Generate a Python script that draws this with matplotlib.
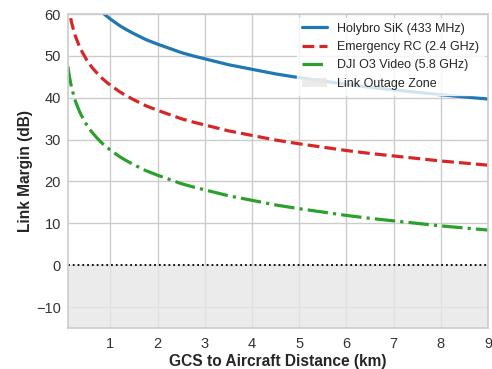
import matplotlib
matplotlib.use("Agg")
import matplotlib.pyplot as plt
import seaborn as sns

# distance from GCS (km) and link margin (dB) per radio link
distance_km = [0.1, 0.11, 0.125, 0.14, 0.16, 0.18, 0.2, 0.25, 0.3, 0.35, 0.4, 0.5, 0.6,
               0.7, 0.8, 0.9, 1.0, 1.1, 1.2, 1.35, 1.5, 1.75, 2.0, 2.25, 2.5, 2.75, 3.0,
               3.5, 4.0, 4.5, 5.0, 5.5, 6.0, 6.5, 7.0, 7.5, 8.0, 8.5, 9.0]
sik_433 = [78.8, 78.0, 76.9, 75.9, 74.7, 73.7, 72.8, 70.8, 69.3, 67.9, 66.8, 64.8, 63.2,
           61.9, 60.7, 59.7, 58.8, 58.0, 57.2, 56.2, 55.3, 53.9, 52.8, 51.8, 50.8, 50.0, 49.3,
           47.9, 46.8, 45.7, 44.8, 44.0, 43.2, 42.5, 41.9, 41.3, 40.7, 40.2, 39.7]
rc_24 = [63.0, 62.2, 61.1, 60.1, 58.9, 57.9, 57.0, 55.0, 53.5, 52.1, 51.0, 49.0, 47.4,
         46.1, 44.9, 43.9, 43.0, 42.2, 41.4, 40.4, 39.5, 38.1, 37.0, 36.0, 35.0, 34.2, 33.5,
         32.1, 31.0, 29.9, 29.0, 28.2, 27.4, 26.7, 26.1, 25.5, 24.9, 24.4, 23.9]
o3_58 = [47.5, 46.7, 45.6, 44.6, 43.4, 42.4, 41.5, 39.5, 38.0, 36.6, 35.5, 33.5, 31.9,
         30.6, 29.4, 28.4, 27.5, 26.7, 25.9, 24.9, 24.0, 22.6, 21.5, 20.5, 19.5, 18.7, 18.0,
         16.6, 15.5, 14.4, 13.5, 12.7, 11.9, 11.2, 10.6, 10.0, 9.4, 8.9, 8.4]

sns.set_theme(style="whitegrid")
plt.rcParams["font.family"] = ["Liberation Sans", "DejaVu Sans"]

fig = plt.figure(figsize=(4.92, 3.69), dpi=100)
ax = fig.add_axes([0.138, 0.111, 0.854, 0.851])

ax.plot(distance_km, sik_433, color="#1f77b4", lw=2.3, ls="-", label="Holybro SiK (433 MHz)")
ax.plot(distance_km, rc_24, color="#d62728", lw=2.3, ls="--", label="Emergency RC (2.4 GHz)")
ax.plot(distance_km, o3_58, color="#2ca02c", lw=2.3, ls="-.", label="DJI O3 Video (5.8 GHz)")
ax.axhspan(-15, 0, color="#e6e6e6", alpha=0.8, lw=0, label="Link Outage Zone")
ax.axhline(0, color="black", ls=":", lw=1.3)

ax.set_xlim(0.1, 9)
ax.set_ylim(-15, 60)
ax.set_xticks(range(1, 10))
ax.set_yticks(range(-10, 61, 10))
ax.tick_params(labelsize=10.5, pad=0.5, labelcolor="#333333")
ax.tick_params(axis="y", pad=-1)
for s in ax.spines.values():
    s.set_color("#cccccc")
    s.set_linewidth(1.2)

ax.set_xlabel("GCS to Aircraft Distance (km)", fontsize=11.2, fontweight="bold", labelpad=2)
ax.set_ylabel("Link Margin (dB)", fontsize=11.2, fontweight="bold", labelpad=2)

leg = ax.legend(loc="upper right", fontsize=9, frameon=True, framealpha=0.8,
                edgecolor="white", borderaxespad=0.3)

fig.savefig("out.png", dpi=100)
